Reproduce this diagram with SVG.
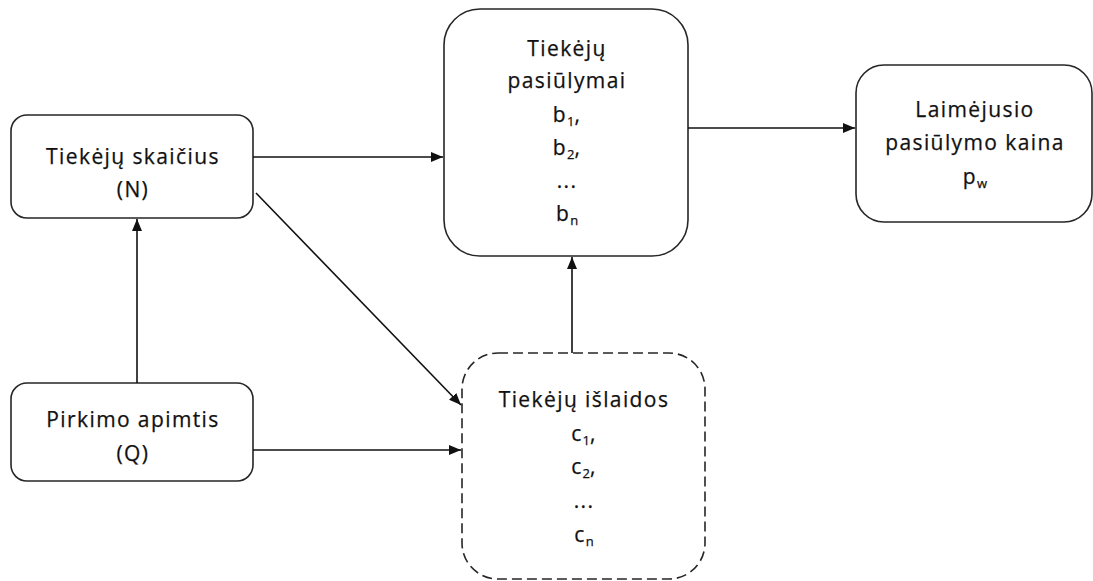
<svg xmlns="http://www.w3.org/2000/svg" width="1093" height="581" viewBox="0 0 1093 581">
<style>
.box{fill:#fff;stroke:#262626;stroke-width:1.6}
.dash{stroke-dasharray:10 5}
.t{font-family:"Open Sans","Noto Sans",sans-serif;font-size:21px;letter-spacing:1.4px;fill:#111;stroke:#111;stroke-width:0.25;text-anchor:middle}
.sub{font-size:13px;letter-spacing:0}
.c{stroke:#111;stroke-width:1.6;fill:none;marker-end:url(#ah)}
</style>
<defs>
<marker id="ah" viewBox="0 0 12 10" refX="12" refY="5" markerWidth="12" markerHeight="10" markerUnits="userSpaceOnUse" orient="auto">
<path d="M0,0 L12,5 L0,10 z" fill="#111"/>
</marker>
</defs>
<rect width="1093" height="581" fill="#fff"/>
<g id="n_skaicius">
<rect class="box" x="11" y="115" width="242" height="103" rx="16"/>
<text class="t" x="133" y="164">Tiekėjų skaičius</text>
<text class="t" x="133" y="197">(N)</text>
</g>
<g id="n_apimtis">
<rect class="box" x="11" y="383" width="242" height="98" rx="16"/>
<text class="t" x="133" y="427">Pirkimo apimtis</text>
<text class="t" x="133" y="461">(Q)</text>
</g>
<g id="n_pasiulymai">
<rect class="box" x="444" y="9" width="244" height="247" rx="36"/>
<text class="t" x="567" y="56">Tiekėjų</text>
<text class="t" x="567" y="88">pasiūlymai</text>
<text class="t" x="567" y="122">b<tspan class="sub" dy="4">1</tspan><tspan dy="-4">,</tspan></text>
<text class="t" x="567" y="155">b<tspan class="sub" dy="4">2</tspan><tspan dy="-4">,</tspan></text>
<text class="t" x="567" y="188">...</text>
<text class="t" x="567" y="221">b<tspan class="sub" dy="4">n</tspan></text>
</g>
<g id="n_kaina">
<rect class="box" x="856" y="65" width="236" height="157" rx="28"/>
<text class="t" x="975" y="117">Laimėjusio</text>
<text class="t" x="975" y="150">pasiūlymo kaina</text>
<text class="t" x="975" y="184">p<tspan class="sub" dy="4">w</tspan></text>
</g>
<g id="n_islaidos">
<rect class="box dash" x="462" y="353" width="243" height="226" rx="36"/>
<text class="t" x="584" y="407">Tiekėjų išlaidos</text>
<text class="t" x="584" y="441">c<tspan class="sub" dy="4">1</tspan><tspan dy="-4">,</tspan></text>
<text class="t" x="584" y="474">c<tspan class="sub" dy="4">2</tspan><tspan dy="-4">,</tspan></text>
<text class="t" x="584" y="508">...</text>
<text class="t" x="584" y="542">c<tspan class="sub" dy="4">n</tspan></text>
</g>
<g id="connectors">
<line class="c" x1="253" y1="157" x2="443" y2="157"/>
<line class="c" x1="256" y1="193" x2="461" y2="405"/>
<line class="c" x1="137" y1="383" x2="137" y2="219"/>
<line class="c" x1="253" y1="450" x2="461" y2="450"/>
<line class="c" x1="572" y1="353" x2="572" y2="257"/>
<line class="c" x1="688" y1="128" x2="855" y2="128"/>
</g>
</svg>
